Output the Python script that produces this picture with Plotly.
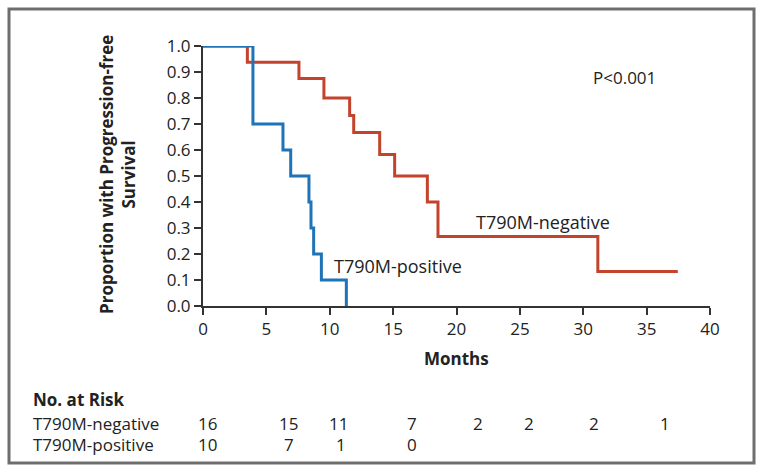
import plotly.graph_objects as go

# Kaplan-Meier step data (months, proportion)
neg_months = [0, 3.5, 7.57, 9.54, 11.57, 11.89, 13.94, 15.12, 17.70, 18.54, 31.15, 37.46]
neg_surv = [1.0, 0.9375, 0.875, 0.80, 0.733, 0.667, 0.583, 0.50, 0.40, 0.267, 0.133, 0.133]
pos_months = [0, 3.94, 6.31, 6.92, 8.36, 8.52, 8.73, 9.34, 11.31]
pos_surv = [1.0, 0.7, 0.6, 0.5, 0.4, 0.3, 0.2, 0.1, 0.0]

# Number at risk table
risk_pos_x = [0.32, 6.72, 10.68, 16.49, 21.73, 25.73, 30.85, 36.46]
risk_neg = [16, 15, 11, 7, 2, 2, 2, 1]
risk_pos_x2 = [0.32, 6.8, 10.9, 16.49]
risk_pos = [10, 7, 1, 0]

x_ticks = [0, 5, 10, 15, 20, 25, 30, 35, 40]
y_ticks = [0.0, 0.1, 0.2, 0.3, 0.4, 0.5, 0.6, 0.7, 0.8, 0.9, 1.0]

RED = "#c4432d"
BLUE = "#1f73b7"
FONT = "Open Sans"

fig = go.Figure()
fig.add_trace(go.Scatter(x=neg_months, y=neg_surv, mode="lines", line=dict(shape="hv", color=RED, width=3),
                         cliponaxis=False, showlegend=False, hoverinfo="skip"))
fig.add_trace(go.Scatter(x=pos_months, y=pos_surv, mode="lines", line=dict(shape="hv", color=BLUE, width=3),
                         cliponaxis=False, showlegend=False, hoverinfo="skip"))

W, H = 764, 475
L, R, T, B = 203, 54, 46, 169
pw, ph = W - L - R, H - T - B

def px(x):
    return (x - L) / pw

def py(y):
    return (H - B - y) / ph

annotations = [
    dict(text="P<0.001", x=30.65, y=py(77), xref="x", yref="paper", showarrow=False,
         xanchor="left", yanchor="middle", font=dict(size=17)),
    dict(text="T790M-negative", x=26.8, y=py(222), xref="x", yref="paper", showarrow=False,
         xanchor="center", yanchor="middle", font=dict(size=18)),
    dict(text="T790M-positive", x=15.35, y=py(266), xref="x", yref="paper", showarrow=False,
         xanchor="center", yanchor="middle", font=dict(size=18)),
    dict(text="<b>Proportion with Progression-free<br>Survival</b>", x=px(117), y=py(175),
         xref="paper", yref="paper", showarrow=False, textangle=-90, xanchor="center", yanchor="middle",
         font=dict(size=17)),
    dict(text="<b>Months</b>", x=20, y=py(358), xref="x", yref="paper", showarrow=False,
         xanchor="center", yanchor="middle", font=dict(size=17)),
    dict(text="<b>No. at Risk</b>", x=px(31), y=py(399), xref="paper", yref="paper", showarrow=False,
         xanchor="left", yanchor="middle", font=dict(size=17)),
    dict(text="T790M-negative", x=px(31), y=py(423), xref="paper", yref="paper", showarrow=False,
         xanchor="left", yanchor="middle", font=dict(size=17)),
    dict(text="T790M-positive", x=px(31), y=py(444), xref="paper", yref="paper", showarrow=False,
         xanchor="left", yanchor="middle", font=dict(size=17)),
]
for xv, n in zip(risk_pos_x, risk_neg):
    annotations.append(dict(text=str(n), x=xv, y=py(423), xref="x", yref="paper", showarrow=False,
                            xanchor="center", yanchor="middle", font=dict(size=17)))
for xv, n in zip(risk_pos_x2, risk_pos):
    annotations.append(dict(text=str(n), x=xv, y=py(444), xref="x", yref="paper", showarrow=False,
                            xanchor="center", yanchor="middle", font=dict(size=17)))

fig.update_layout(
    width=W, height=H,
    margin=dict(l=L, r=R, t=T, b=B),
    paper_bgcolor="white", plot_bgcolor="white",
    font=dict(family=FONT, color="#222222", size=17),
    xaxis=dict(range=[0, 40], tickvals=x_ticks, ticktext=[str(v) for v in x_ticks],
               showgrid=False, zeroline=False, showline=True, linecolor="#333333", linewidth=2,
               ticks="outside", ticklen=7, tickwidth=1.5, tickcolor="#333333",
               tickfont=dict(size=17, family=FONT)),
    yaxis=dict(range=[0, 1], tickvals=y_ticks, ticktext=[f"{v:.1f}" for v in y_ticks],
               showgrid=False, zeroline=False, showline=True, linecolor="#333333", linewidth=2,
               ticks="outside", ticklen=7, tickwidth=1.5, tickcolor="#333333",
               tickfont=dict(size=17, family=FONT)),
    annotations=annotations,
    shapes=[dict(type="rect", xref="paper", yref="paper",
                 x0=px(9), x1=px(754), y0=py(463), y1=py(9),
                 line=dict(color="#6e6e6e", width=3), fillcolor="rgba(0,0,0,0)", layer="below")],
)

fig.write_html("out.html", config={"displayModeBar": False},
               post_script="document.body.style.margin='0';document.body.style.overflow='hidden';")
